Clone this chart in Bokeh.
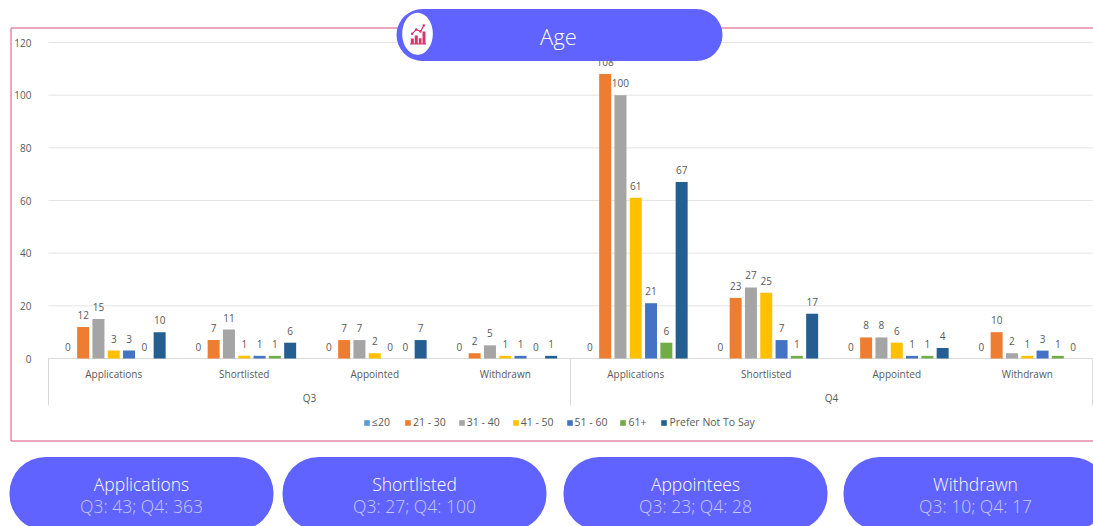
import numpy as np
from bokeh.plotting import figure
from bokeh.models import (ColumnDataSource, Range1d, BoxAnnotation, Label, LinearAxis,
                          PolyAnnotation, Legend, LegendItem, FixedTicker)
from bokeh.transform import dodge
from bokeh.core.properties import value
from bokeh.embed import file_html
from bokeh.resources import INLINE

quarters = ["Q3", "Q4"]
stages = ["Applications", "Shortlisted", "Appointed", "Withdrawn"]
age_bands = ["≤20", "21 - 30", "31 - 40", "41 - 50", "51 - 60", "61+", "Prefer Not To Say"]
age_le20 = [0, 0, 0, 0, 0, 0, 0, 0]
age_21_30 = [12, 7, 7, 2, 108, 23, 8, 10]
age_31_40 = [15, 11, 7, 5, 100, 27, 8, 2]
age_41_50 = [3, 1, 2, 1, 61, 25, 6, 1]
age_51_60 = [3, 1, 0, 1, 21, 7, 1, 3]
age_61_up = [0, 1, 0, 0, 6, 1, 1, 1]
age_prefer_not = [10, 6, 7, 1, 67, 17, 4, 0]
series_values = [age_le20, age_21_30, age_31_40, age_41_50, age_51_60, age_61_up, age_prefer_not]
colors = ["#5b9bd5", "#ed7d31", "#a5a5a5", "#ffc000", "#4472c4", "#70ad47", "#255e91"]
y_ticks = [0, 20, 40, 60, 80, 100, 120]
card_titles = ["Applications", "Shortlisted", "Appointees", "Withdrawn"]
card_texts = ["Q3: 43; Q4: 363", "Q3: 27; Q4: 100", "Q3: 23; Q4: 28", "Q3: 10; Q4: 17"]
chart_title = "Age"

W, H = 1093, 526
PX_X = 130.5      # pixels per stage group
PX_Y = 316 / 120  # pixels per count
X0, Y0 = 48, 358  # pixel of the plot origin
PILL = "#6063ff"
LAB = "#595959"
RULE = "#e4e4e4"
CHART_FONT = "Open Sans"
CARD_FONT = "'Open Sans Light','Noto Sans Light','Lato Light','Noto Sans'"

p = figure(width=W, height=H, output_backend="svg", toolbar_location=None,
           x_range=Range1d(-X0 / PX_X, (W - X0) / PX_X),
           y_range=Range1d(-(H - Y0) / PX_Y, Y0 / PX_Y),
           x_axis_type=None, y_axis_type=None, min_border=0, outline_line_color=None,
           background_fill_color="white", border_fill_color="white")
p.grid.visible = False

n_groups = len(quarters) * len(stages)
centers = [i + 0.5 for i in range(n_groups)]
# grid rules and axis brackets, in data space
p.segment(x0=[0] * len(y_ticks), x1=[n_groups] * len(y_ticks), y0=y_ticks, y1=y_ticks,
          line_color=RULE, line_width=1)
drop = -(405 - Y0) / PX_Y
p.segment(x0=[0, len(stages), n_groups], x1=[0, len(stages), n_groups],
          y0=[0, 0, 0], y1=[drop, drop, drop], line_color="#d9d9d9", line_width=1)
p.segment(x0=[0], x1=[n_groups], y0=[0], y1=[0], line_color="#d9d9d9", line_width=1)


def style_axis(ax, standoff):
    ax.axis_line_color = None
    ax.major_tick_line_color = None
    ax.minor_tick_line_color = None
    ax.major_label_standoff = standoff
    ax.major_label_text_font = CHART_FONT
    ax.major_label_text_font_size = "10px"
    ax.major_label_text_color = LAB


y_axis = LinearAxis(ticker=FixedTicker(ticks=y_ticks), fixed_location=0)
style_axis(y_axis, 11)
p.add_layout(y_axis, "left")

stage_axis = LinearAxis(ticker=FixedTicker(ticks=centers), fixed_location=0,
                        major_label_overrides={c: s for c, s in zip(centers, stages * 2)})
style_axis(stage_axis, 2)
p.add_layout(stage_axis, "below")

q_pos = [len(stages) / 2, len(stages) * 1.5]
q_axis = LinearAxis(ticker=FixedTicker(ticks=q_pos),
                    fixed_location=-26 / PX_Y,
                    major_label_overrides={c: s for c, s in zip(q_pos, quarters)})
style_axis(q_axis, 0)
p.add_layout(q_axis, "below")

STEP = 15.3 / PX_X
WIDTH = 12 / PX_X
data = {"x": centers}
for i, vals in enumerate(series_values):
    data[f"s{i}"] = vals
    data[f"l{i}"] = [str(v) for v in vals]
source = ColumnDataSource(data)
items = []
for i, band in enumerate(age_bands):
    off = (i - 3) * STEP
    r = p.vbar(x=dodge("x", off), top=f"s{i}", width=WIDTH, bottom=0, fill_color=colors[i],
               line_color=None, source=source)
    p.text(x=dodge("x", off), y=f"s{i}", text=f"l{i}", source=source,
           text_align="center", text_baseline="middle", y_offset=-12,
           text_font=value(CHART_FONT), text_font_size="10px", text_color=LAB)
    items.append(LegendItem(label=band, renderers=[r]))

legend = Legend(items=items, orientation="horizontal", location=(363, 97),
                glyph_width=7, glyph_height=7, label_text_font=CHART_FONT,
                label_text_font_size="10.5px", label_text_color=LAB, spacing=12,
                label_standoff=2, padding=4, margin=0,
                background_fill_alpha=0, border_line_color=None)
p.add_layout(legend, "center")


def box(l, t, r, b, **kw):
    p.add_layout(BoxAnnotation(left=l, right=r, top=t, bottom=b,
                               left_units="canvas", right_units="canvas",
                               top_units="canvas", bottom_units="canvas", **kw))


def poly(xs, ys, **kw):
    p.add_layout(PolyAnnotation(xs=list(xs), ys=list(ys), xs_units="canvas", ys_units="canvas", **kw))


def label(x, y, text, size, color, font=CARD_FONT):
    p.add_layout(Label(x=x, y=y, x_units="canvas", y_units="canvas", text=text,
                       text_align="center", text_baseline="middle", text_font=font,
                       text_font_size=size, text_color=color))


# red frame round the chart
box(10.5, 27.5, 1120, 440.5, fill_alpha=0, line_color="#d8507c", line_alpha=1, line_width=1)

# title pill
box(396, 8.5, 722, 60.5, fill_color=PILL, fill_alpha=1, line_alpha=0, border_radius=26)
label(558, 35.5, chart_title, "22px", "white")
ang = np.linspace(0, 2 * np.pi, 60)
poly(417 + 15.3 * np.cos(ang), 33.3 + 21 * np.sin(ang),
     fill_color="white", fill_alpha=1, line_alpha=0)
ICON = "#d9336c"
for l, t, r in ((410.3, 38, 413.3), (414.3, 35, 417.3), (418.3, 37.7, 421), (422, 31, 425)):
    box(l, t, r, 43.5, fill_color=ICON, fill_alpha=1, line_alpha=0)
box(409.5, 43, 425.5, 44, fill_color=ICON, fill_alpha=1, line_alpha=0)
lx, ly = [411.7, 415.7, 420, 423.3], [33.3, 29, 31, 25]
poly(lx + lx[::-1], ly + ly[::-1], fill_alpha=0, line_color=ICON, line_alpha=1, line_width=1)
for cx, cy in zip(lx, ly):
    box(cx - 1.2, cy - 1.2, cx + 1.2, cy + 1.2, fill_color=ICON, fill_alpha=1, line_alpha=0, border_radius=1)

# cards
card_x = [(9, 273), (282, 546), (563, 827), (843, 1107)]
for (l, r), t1, t2 in zip(card_x, card_titles, card_texts):
    box(l, 456.5, r, 530, fill_color=PILL, fill_alpha=1, line_alpha=0, border_radius=36)
    label((l + r) / 2, 483, t1, "17.5px", "white")
    label((l + r) / 2, 505, t2, "17.5px", "#c6c8ff")

open("out.html", "w").write(file_html(p, INLINE))
